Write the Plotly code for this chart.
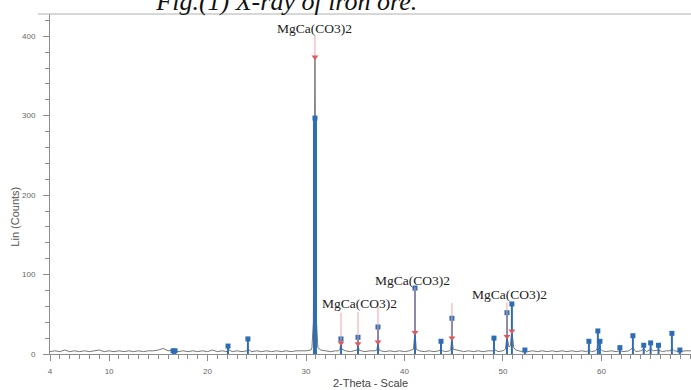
import plotly.graph_objects as go

# ---------------- data ----------------
spectrum_2theta = [4.0, 4.5, 5.0, 5.5, 6.0, 6.5, 7.0, 7.5, 8.0, 8.5, 9.0, 9.5, 10.0, 10.5, 11.0, 11.5,
                   12.0, 12.5, 13.0, 13.5, 14.0, 14.5, 15.0, 15.5, 16.0, 16.5, 16.7, 17.0, 17.5, 18.0, 18.5,
                   19.0, 19.5, 20.0, 20.5, 21.0, 21.5, 22.0, 22.08, 22.5, 23.0, 23.5, 24.0, 24.1, 24.5,
                   25.0, 25.5, 26.0, 26.5, 27.0, 27.5, 28.0, 28.5, 29.0, 29.5, 30.0, 30.5, 30.6, 30.75,
                   30.85, 30.91, 30.97, 31.07, 31.2, 31.5, 32.0, 32.5, 33.0, 33.3, 33.45, 33.55, 33.65,
                   34.0, 34.5, 35.0, 35.2, 35.28, 35.38, 35.6, 36.0, 36.5, 37.0, 37.2, 37.31, 37.42, 37.6,
                   38.0, 38.5, 39.0, 39.5, 40.0, 40.5, 40.9, 41.07, 41.2, 41.5, 42.0, 42.5, 43.0, 43.5,
                   43.71, 43.85, 44.2, 44.6, 44.7, 44.82, 44.95, 45.5, 46.0, 46.5, 47.0, 47.5, 48.0, 48.5,
                   49.0, 49.09, 49.5, 50.0, 50.25, 50.41, 50.6, 50.75, 50.91, 51.1, 51.3, 51.6, 52.0,
                   52.23, 52.5, 53.0, 53.5, 54.0, 54.5, 55.0, 55.5, 56.0, 56.5, 57.0, 57.5, 58.0, 58.5,
                   58.73, 59.0, 59.4, 59.64, 59.75, 59.85, 60.1, 60.5, 61.0, 61.5, 61.88, 62.3, 62.8,
                   63.2, 63.5, 64.0, 64.3, 64.6, 65.0, 65.3, 65.8, 66.2, 66.6, 67.0, 67.16, 67.4, 68.0,
                   68.5, 69.1]
spectrum_counts = [3, 4, 3, 5, 3, 4, 3, 4, 3, 4, 5, 3, 4, 3, 4, 3,
                   4, 3, 4, 3, 4, 4, 5, 7, 4, 5, 5, 3, 4, 3, 4,
                   3, 4, 3, 5, 3, 4, 3, 6, 3, 4, 3, 4, 6, 3,
                   4, 3, 4, 3, 4, 3, 4, 3, 4, 4, 4, 5, 8, 40,
                   250, 375, 250, 40, 8, 5, 4, 3, 4, 4, 6, 14, 6,
                   4, 3, 4, 5, 13, 5, 4, 3, 4, 4, 5, 15, 5, 4,
                   3, 4, 3, 4, 3, 4, 6, 27, 6, 4, 3, 4, 3, 4,
                   6, 4, 3, 4, 6, 20, 6, 4, 3, 4, 3, 4, 3, 4,
                   4, 6, 3, 4, 6, 22, 9, 10, 29, 8, 5, 4, 3,
                   4, 3, 4, 3, 4, 3, 4, 3, 4, 3, 4, 3, 4, 3,
                   5, 3, 4, 8, 5, 7, 4, 3, 4, 3, 4, 3, 4,
                   8, 3, 4, 6, 3, 6, 4, 5, 3, 4, 4, 7, 4, 3,
                   4, 4]

stick_2theta = [16.5, 16.7, 22.08, 24.1, 30.91, 33.55, 35.28, 37.31, 41.07, 43.71, 44.82, 49.09,
                50.41, 50.91, 52.23, 58.73, 59.64, 59.85, 61.88, 63.2, 64.3, 65.0, 65.8, 67.16, 67.97]
stick_counts = [4, 4, 10, 19, 297, 19, 21, 34, 83, 16, 45, 20,
                52, 63, 5, 16, 29, 16, 8, 23, 11, 14, 11, 26, 5]

ref_2theta = [30.91, 33.55, 35.28, 37.31, 41.07, 44.82, 50.41, 50.91]
ref_counts = [374, 14, 13, 15, 27, 20, 22, 29]
ref_line_top = [401, 52, 53, 59, 84, 64, 65, 29]

label_2theta = [30.91, 35.48, 40.86, 50.71]
label_counts = [410, 64, 93, 75]
label_text = ["MgCa(CO3)2", "MgCa(CO3)2", "MgCa(CO3)2", "MgCa(CO3)2"]

x_tickvals = [4, 10, 20, 30, 40, 50, 60]
y_tickvals = [0, 100, 200, 300, 400]

BLUE = "#2e6db4"
RED = "#e2575a"
RED_LINE = "#f0a3a3"
GREY = "#767676"
AXIS = "#8c8c8c"

fig = go.Figure()

# measured pattern
fig.add_trace(go.Scatter(x=spectrum_2theta, y=spectrum_counts, mode="lines",
                         line=dict(color=GREY, width=1), hoverinfo="skip", showlegend=False))

# stick lines (peak list)
main_idx = stick_counts.index(max(stick_counts))
sx, sy = [], []
for i, (a, b) in enumerate(zip(stick_2theta, stick_counts)):
    if i == main_idx:
        continue
    sx += [a, a, None]
    sy += [0, b, None]
fig.add_trace(go.Scatter(x=sx, y=sy, mode="lines", line=dict(color=BLUE, width=2),
                         hoverinfo="skip", showlegend=False))
fig.add_trace(go.Scatter(x=[stick_2theta[main_idx]] * 2, y=[0, stick_counts[main_idx]], mode="lines",
                         line=dict(color=BLUE, width=4), hoverinfo="skip", showlegend=False))
fig.add_trace(go.Scatter(x=stick_2theta, y=stick_counts, mode="markers",
                         marker=dict(symbol="square", size=5, color=BLUE),
                         hoverinfo="skip", showlegend=False))

# reference pointers
rx, ry = [], []
for a, b, t in zip(ref_2theta, ref_counts, ref_line_top):
    rx += [a, a, None]
    ry += [t, b, None]
fig.add_trace(go.Scatter(x=rx, y=ry, mode="lines", line=dict(color=RED_LINE, width=1),
                         hoverinfo="skip", showlegend=False))
fig.add_trace(go.Scatter(x=ref_2theta, y=ref_counts, mode="markers",
                         marker=dict(symbol="triangle-down", size=6, color=RED),
                         hoverinfo="skip", showlegend=False))

for a, b, t in zip(label_2theta, label_counts, label_text):
    fig.add_annotation(x=a, y=b, text=t, showarrow=False, xanchor="center", yanchor="middle",
                       font=dict(family="Liberation Serif", size=13.5, color="#222"))

# y-axis title (placed slightly below centre as in reference)
fig.add_annotation(xref="paper", yref="paper", x=-0.054, y=0.405, text="Lin (Counts)",
                   textangle=-90, showarrow=False, xanchor="center", yanchor="middle",
                   font=dict(family="Liberation Sans", size=11, color="#555"))

# top frame line
fig.add_shape(type="line", xref="paper", yref="paper", x0=-0.019, x1=1, y0=1, y1=1,
              line=dict(color="#b0b0b0", width=1))

fig.update_layout(
    width=691, height=390,
    margin=dict(l=50, r=0, t=14, b=36),
    paper_bgcolor="white", plot_bgcolor="white",
    title=dict(text="<i>Fig.(1) X-ray of iron ore.</i>", xref="container", yref="container",
               x=0.415, xanchor="center", y=0.997, yanchor="middle",
               font=dict(family="Liberation Serif", size=26, color="#111")),
    xaxis=dict(range=[4, 69.1], showline=True, linecolor=AXIS, linewidth=1, showgrid=False,
               zeroline=False, ticks="outside", ticklen=6, tickcolor=AXIS, tickvals=x_tickvals,
               ticklabelstandoff=3,
               minor=dict(dtick=1, tick0=4, ticks="outside", ticklen=4, tickcolor=AXIS),
               tickfont=dict(family="Liberation Sans", size=8, color="#666"),
               title=dict(text="2-Theta - Scale", standoff=4,
                          font=dict(family="Liberation Sans", size=11, color="#444"))),
    yaxis=dict(range=[0, 428], showline=True, linecolor=AXIS, linewidth=1, showgrid=False,
               zeroline=False, ticks="outside", ticklen=6, tickcolor=AXIS, tickvals=y_tickvals,
               ticklabelstandoff=6,
               minor=dict(dtick=20, ticks="outside", ticklen=4, tickcolor=AXIS),
               tickfont=dict(family="Liberation Sans", size=8, color="#666")),
)

fig.write_html("out.html")
